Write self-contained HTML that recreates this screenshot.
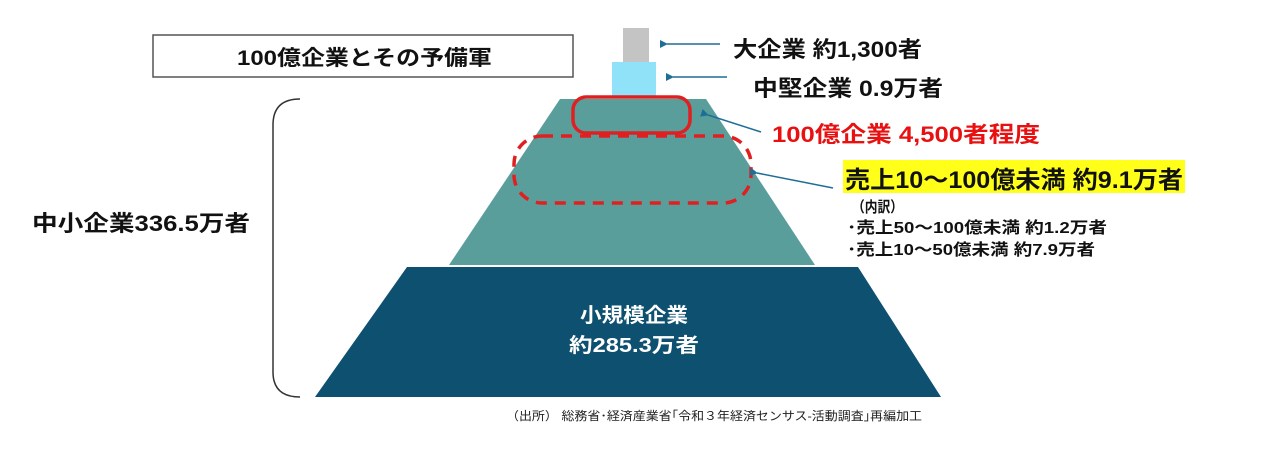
<!DOCTYPE html>
<html><head><meta charset="utf-8"><style>
html,body{margin:0;padding:0;background:#fff;}
svg text{font-family:"Liberation Sans","Noto Sans CJK JP",sans-serif;font-weight:bold;}
</style></head><body>
<svg width="1280" height="454" viewBox="0 0 1280 454" xmlns="http://www.w3.org/2000/svg">
<defs><marker id="a" markerWidth="8" markerHeight="8" refX="1" refY="4" orient="auto-start-reverse" markerUnits="userSpaceOnUse"><path d="M8,0 L0,4 L8,8 Z" fill="#1f6e96"/></marker></defs>
<rect x="153" y="35" width="420" height="42" fill="#fff" stroke="#555" stroke-width="1.5"/>
<text x="237" y="65" font-size="21" fill="#111" textLength="255" lengthAdjust="spacingAndGlyphs">100億企業とその予備軍</text>
<rect x="623" y="28" width="26" height="35" fill="#c4c4c4"/>
<rect x="612" y="62" width="44" height="36" fill="#8fe2f8"/>
<polygon points="560,99 706,99 815,265 449,265" fill="#5a9e9c"/>
<polygon points="407,267 858,267 941,397 315,397" fill="#0d5070"/>
<rect x="573" y="97" width="117" height="36" rx="13" fill="none" stroke="#e02020" stroke-width="3.5"/>
<rect x="514" y="136" width="237" height="67" rx="28" fill="none" stroke="#e02020" stroke-width="3.5" stroke-dasharray="11,8"/>
<path d="M300,99 Q273,99 273,125 L273,372 Q273,397 300,397" fill="none" stroke="#333" stroke-width="1.5"/>
<line x1="720" y1="44" x2="667" y2="44" stroke="#1f6e96" stroke-width="1.5" marker-end="url(#a)"/>
<line x1="727" y1="77" x2="673" y2="77" stroke="#1f6e96" stroke-width="1.5" marker-end="url(#a)"/>
<line x1="761" y1="132" x2="708" y2="115" stroke="#1f6e96" stroke-width="1.5" marker-end="url(#a)"/>
<line x1="833" y1="188" x2="757" y2="173" stroke="#1f6e96" stroke-width="1.5" marker-end="url(#a)"/>
<text x="733" y="57" font-size="22" fill="#111" textLength="189" lengthAdjust="spacingAndGlyphs">大企業 約1,300者</text>
<text x="753" y="96" font-size="22" fill="#111" textLength="190" lengthAdjust="spacingAndGlyphs">中堅企業  0.9万者</text>
<text x="772" y="142" font-size="22" fill="#e81010" textLength="268" lengthAdjust="spacingAndGlyphs">100億企業  4,500者程度</text>
<rect x="843" y="160" width="342" height="33" fill="#ffff1a"/>
<text x="845" y="188" font-size="24" fill="#111" textLength="338" lengthAdjust="spacingAndGlyphs">売上10～100億未満  約9.1万者</text>
<text x="852" y="212" font-size="15" fill="#111" textLength="51" lengthAdjust="spacingAndGlyphs">（内訳）</text>
<text x="847" y="233" font-size="16" fill="#111" textLength="260" lengthAdjust="spacingAndGlyphs">･売上50～100億未満  約1.2万者</text>
<text x="847" y="255" font-size="16" fill="#111" textLength="248" lengthAdjust="spacingAndGlyphs">･売上10～50億未満  約7.9万者</text>
<text x="32" y="231" font-size="22" fill="#111" textLength="218" lengthAdjust="spacingAndGlyphs">中小企業336.5万者</text>
<text x="580" y="322" font-size="20" fill="#fff" textLength="108" lengthAdjust="spacingAndGlyphs">小規模企業</text>
<text x="569" y="352" font-size="20" fill="#fff" textLength="130" lengthAdjust="spacingAndGlyphs">約285.3万者</text>
<text x="506" y="420" font-size="12" fill="#222" style="font-weight:normal" textLength="416" lengthAdjust="spacingAndGlyphs">（出所） 総務省･経済産業省｢令和３年経済センサス-活動調査｣再編加工</text>
</svg>
</body></html>
